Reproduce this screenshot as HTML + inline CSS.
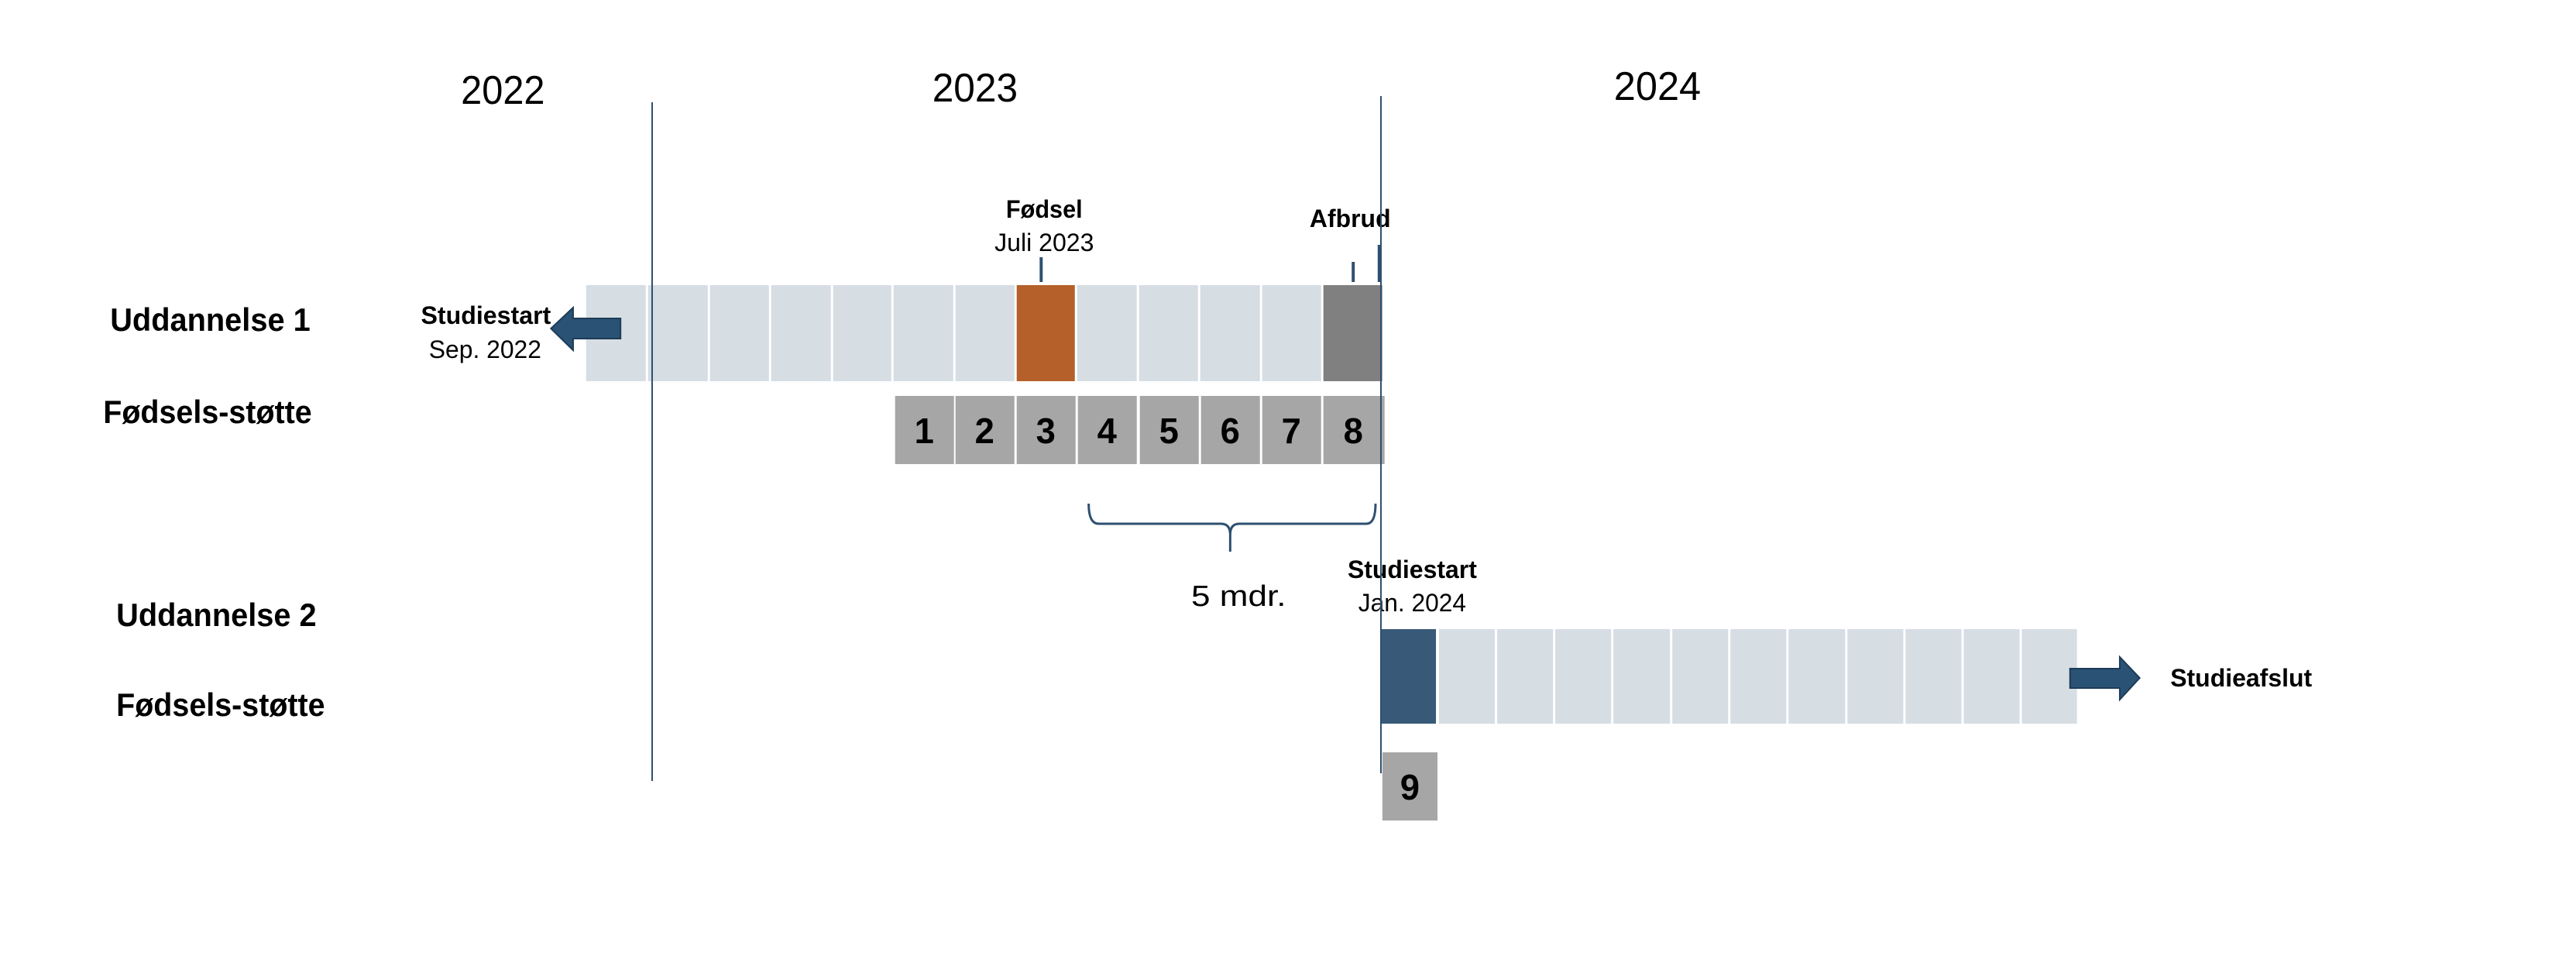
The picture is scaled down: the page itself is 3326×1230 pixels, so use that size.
<!DOCTYPE html>
<html><head><meta charset="utf-8"><style>html,body{margin:0;padding:0;background:#fff}svg{display:block}</style></head>
<body>
<svg width="3326" height="1230" viewBox="0 0 3326 1230" xmlns="http://www.w3.org/2000/svg" font-family="'Liberation Sans Narrow','Liberation Sans',sans-serif">
<rect width="3326" height="1230" fill="#fff"/>
<g transform="matrix(0.9944 0 0 1 0 0)">
<g font-size="52" fill="#000" text-anchor="middle">
<text x="653" y="134" textLength="109" lengthAdjust="spacingAndGlyphs">2022</text>
<text x="1266" y="131" textLength="111" lengthAdjust="spacingAndGlyphs">2023</text>
<text x="2152" y="129" textLength="113" lengthAdjust="spacingAndGlyphs">2024</text>
</g>
<g font-size="42" font-weight="bold" fill="#000">
<text x="143" y="427" textLength="260" lengthAdjust="spacingAndGlyphs">Uddannelse 1</text>
<text x="134" y="546" textLength="271" lengthAdjust="spacingAndGlyphs">Fødsels-støtte</text>
<text x="151" y="808" textLength="260" lengthAdjust="spacingAndGlyphs">Uddannelse 2</text>
<text x="151" y="924" textLength="271" lengthAdjust="spacingAndGlyphs">Fødsels-støtte</text>
</g>
<text x="2910" y="886" font-size="32" font-weight="bold" text-anchor="middle" textLength="184" lengthAdjust="spacingAndGlyphs">Studieafslut</text>
</g>
<g transform="matrix(0.9875 0 0 1 6.25 0)">
<g fill="#d6dde3">
<rect x="760" y="368" width="78" height="124"/>
<rect x="841" y="368" width="78" height="124"/>
<rect x="922" y="368" width="77" height="124"/>
<rect x="1002" y="368" width="78" height="124"/>
<rect x="1083" y="368" width="76" height="124"/>
<rect x="1162" y="368" width="78" height="124"/>
<rect x="1243" y="368" width="77" height="124"/>
<rect x="1402" y="368" width="78" height="124"/>
<rect x="1483" y="368" width="77" height="124"/>
<rect x="1563" y="368" width="78" height="124"/>
<rect x="1644" y="368" width="77" height="124"/>
</g>
<rect x="1323" y="368" width="76" height="124" fill="#b5602a"/>
<rect x="1724" y="368" width="77" height="124" fill="#808080"/>
<g fill="#a6a6a6">
<rect x="1164" y="511" width="77" height="88"/>
<rect x="1243" y="511" width="77" height="88"/>
<rect x="1323" y="511" width="77" height="88"/>
<rect x="1403" y="511" width="77" height="88"/>
<rect x="1484" y="511" width="77" height="88"/>
<rect x="1564" y="511" width="77" height="88"/>
<rect x="1644" y="511" width="77" height="88"/>
<rect x="1724" y="511" width="80" height="88"/>
</g>
<g font-size="46" font-weight="bold" fill="#000" text-anchor="middle">
<text x="1202" y="572">1</text><text x="1281" y="572">2</text><text x="1361" y="572">3</text><text x="1441" y="572">4</text>
<text x="1522" y="572">5</text><text x="1602" y="572">6</text><text x="1682" y="572">7</text><text x="1763" y="572">8</text>
</g>
<polygon points="805,411 743,411 743,397 714,424 743,452 743,437 805,437" fill="#2a5275" stroke="#1d3b57" stroke-width="2"/>
<line x1="1355" y1="332" x2="1355" y2="364" stroke="#2e5070" stroke-width="4"/>
<line x1="1763" y1="338" x2="1763" y2="364" stroke="#2e5070" stroke-width="4"/>
<line x1="1797" y1="316" x2="1797" y2="364" stroke="#2e5070" stroke-width="4"/>
<g fill="#000" text-anchor="middle">
<text x="629" y="418" font-size="32" font-weight="bold" textLength="170" lengthAdjust="spacingAndGlyphs">Studiestart</text>
<text x="628" y="462" font-size="32" textLength="147" lengthAdjust="spacingAndGlyphs">Sep. 2022</text>
<text x="1359" y="281" font-size="32" font-weight="bold" textLength="100" lengthAdjust="spacingAndGlyphs">Fødsel</text>
<text x="1359" y="324" font-size="32" textLength="130" lengthAdjust="spacingAndGlyphs">Juli 2023</text>
<text x="1759" y="293" font-size="32" font-weight="bold" textLength="106" lengthAdjust="spacingAndGlyphs">Afbrud</text>
</g>
</g>
<g transform="matrix(0.9876 0 0 1 16.1 0)">
<rect x="1791" y="971" width="72" height="88" fill="#a6a6a6"/>
<text x="1827" y="1032" font-size="46" font-weight="bold" text-anchor="middle">9</text>
<rect x="1790" y="812" width="71" height="122" fill="#385a78"/>
<g fill="#d6dde3">
<rect x="1865" y="812" width="73" height="122"/><rect x="1941" y="812" width="73" height="122"/>
<rect x="2017" y="812" width="73" height="122"/><rect x="2093" y="812" width="74" height="122"/>
<rect x="2170" y="812" width="73" height="122"/><rect x="2246" y="812" width="73" height="122"/>
<rect x="2322" y="812" width="74" height="122"/><rect x="2399" y="812" width="73" height="122"/>
<rect x="2475" y="812" width="73" height="122"/><rect x="2551" y="812" width="73" height="122"/>
<rect x="2627" y="812" width="72" height="122"/>
</g>
<polygon points="2690,863 2755,863 2755,848 2781,875 2755,903 2755,888 2690,888" fill="#2a5275" stroke="#1d3b57" stroke-width="2"/>
<path d="M1407,650 Q1407,676 1420,676 L1580,676 Q1592,676 1592,690 L1592,712 M1592,690 Q1592,676 1604,676 L1770,676 Q1782,676 1782,650" fill="none" stroke="#2e5070" stroke-width="3"/>
<g fill="#000" text-anchor="middle">
<text x="1603" y="782" font-size="38" textLength="124" lengthAdjust="spacingAndGlyphs">5 mdr.</text>
<text x="1830" y="746" font-size="32" font-weight="bold" textLength="169" lengthAdjust="spacingAndGlyphs">Studiestart</text>
<text x="1830" y="789" font-size="32" textLength="141" lengthAdjust="spacingAndGlyphs">Jan. 2024</text>
</g>
</g>
<line x1="842" y1="132" x2="842" y2="1008" stroke="#2e5070" stroke-width="2"/>
<line x1="1783" y1="124" x2="1783" y2="998" stroke="#2e5070" stroke-width="2"/>
</svg>
</body></html>
